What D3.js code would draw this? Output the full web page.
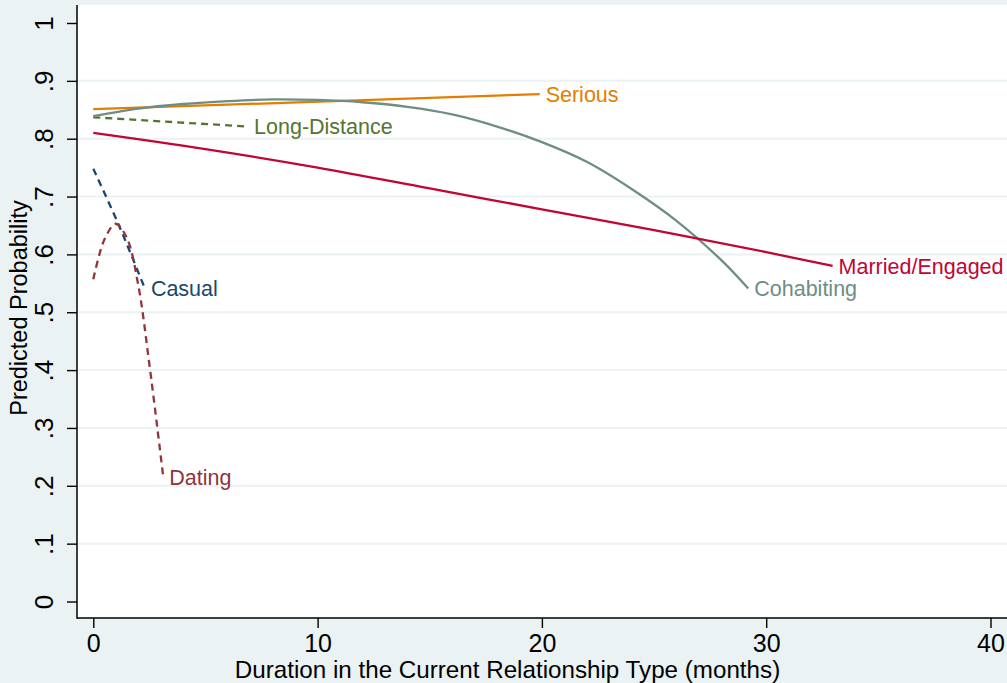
<!DOCTYPE html>
<html>
<head>
<meta charset="utf-8">
<script src="https://cdn.jsdelivr.net/npm/d3@7"></script>
<style>
  html, body { margin: 0; padding: 0; background: #eaf2f3; }
  svg { display: block; }
  text { font-family: "Liberation Sans", Arial, Helvetica, sans-serif; }
</style>
</head>
<body>
<svg id="chart" width="1007" height="683"></svg>
<script>
// Predicted probability by months in the current relationship type
const xTicks = [0, 10, 20, 30, 40];
const yTicks = [0, .1, .2, .3, .4, .5, .6, .7, .8, .9, 1];
const yTickLabels = ["0", ".1", ".2", ".3", ".4", ".5", ".6", ".7", ".8", ".9", "1"];

const seriesNames = ["Casual", "Dating", "Long-Distance", "Serious", "Cohabiting", "Married/Engaged"];

// [months, predicted probability]
const casual = [[0, .748], [1.1, .654], [2.3, .541]];
const dating = [[0, .557], [0.5, .626], [1, .653], [1.5, .628], [2, .548], [2.5, .41], [3.12, .215]];
const longDistance = [[0, .837], [6.9, .821]];
const serious = [[0, .851], [19.9, .877]];
const cohabiting = [[0, .839], [2, .852], [4, .860], [6, .865], [8, .868], [10, .867], [12, .863],
                    [14, .855], [16, .842], [18, .821], [20, .794], [22, .760], [24, .713],
                    [26, .658], [28, .590], [29.2, .541]];
const married = [[0, .810], [5, .782], [10, .750], [15, .714], [20, .678], [25, .642], [30, .604], [32.96, .580]];

const seriesData = [casual, dating, longDistance, serious, cohabiting, married];
const seriesColors = ["#1a476f", "#90353b", "#55752f", "#e37e00", "#6e8e84", "#c10534"];
const seriesDash = ["7,5", "7,5", "7,5", null, null, null];

const svg = d3.select("#chart");
const W = 1007, H = 683;
const plot = { left: 77, top: 5, right: 1010, bottom: 618 };

const x = d3.scaleLinear().domain([0, 40]).range([93.3, 990.5]);
const y = d3.scaleLinear().domain([0, 1]).range([601.5, 23]);

// outer background and plot region
svg.append("rect").attr("width", W).attr("height", H).attr("fill", "#eaf2f3");
svg.append("rect")
  .attr("x", plot.left).attr("y", plot.top)
  .attr("width", plot.right - plot.left).attr("height", plot.bottom - plot.top)
  .attr("fill", "#ffffff");

// horizontal grid lines (interior labels only)
svg.append("g").selectAll("line")
  .data(yTicks.slice(1, -1))
  .join("line")
  .attr("x1", plot.left).attr("x2", plot.right)
  .attr("y1", d => y(d)).attr("y2", d => y(d))
  .attr("stroke", "#eaf2f3").attr("stroke-width", 2);

// y axis
const yAxis = d3.axisLeft(y).tickValues(yTicks).tickSize(10)
  .tickFormat((d, i) => yTickLabels[i]);
const gy = svg.append("g").attr("transform", `translate(${plot.left},0)`).call(yAxis);
gy.select(".domain").remove();
gy.selectAll(".tick line").attr("stroke", "#000").attr("stroke-width", 1.4);
gy.selectAll(".tick text")
  .attr("x", null).attr("dy", null)
  .attr("transform", "translate(-24,0) rotate(-90)")
  .attr("text-anchor", "middle")
  .attr("font-size", 26).attr("fill", "#000");

// x axis
const xAxis = d3.axisBottom(x).tickValues(xTicks).tickSize(10).tickFormat(d3.format("d"));
const gx = svg.append("g").attr("transform", `translate(0,${plot.bottom})`).call(xAxis);
gx.select(".domain").remove();
gx.selectAll(".tick line").attr("stroke", "#000").attr("stroke-width", 1.4);
gx.selectAll(".tick text")
  .attr("y", 33.5).attr("dy", null)
  .attr("font-size", 25).attr("fill", "#000");

// axis lines
svg.append("line")
  .attr("x1", plot.left).attr("x2", plot.left)
  .attr("y1", plot.top).attr("y2", plot.bottom + 0.7)
  .attr("stroke", "#000").attr("stroke-width", 1.5);
svg.append("line")
  .attr("x1", plot.left).attr("x2", plot.right)
  .attr("y1", plot.bottom).attr("y2", plot.bottom)
  .attr("stroke", "#000").attr("stroke-width", 1.5);

// axis titles
svg.append("text")
  .attr("x", 507.5).attr("y", 677.6)
  .attr("text-anchor", "middle")
  .attr("font-size", 24.2).attr("fill", "#000")
  .text("Duration in the Current Relationship Type (months)");
svg.append("text")
  .attr("transform", "translate(27,308) rotate(-90)")
  .attr("text-anchor", "middle")
  .attr("font-size", 23.5).attr("fill", "#000")
  .text("Predicted Probability");

// curves
const line = d3.line()
  .x(d => x(d[0])).y(d => y(d[1]))
  .curve(d3.curveCatmullRom.alpha(0.5));

const gLines = svg.append("g");
seriesData.forEach((pts, i) => {
  gLines.append("path")
    .datum(pts)
    .attr("d", line)
    .attr("fill", "none")
    .attr("stroke", seriesColors[i])
    .attr("stroke-width", 2.3)
    .attr("stroke-dasharray", seriesDash[i]);
});

// end-of-line labels
seriesData.forEach((pts, i) => {
  const last = pts[pts.length - 1];
  svg.append("text")
    .attr("x", x(last[0]) + 6)
    .attr("y", y(last[1]))
    .attr("dy", "0.36em")
    .attr("font-size", 21.5)
    .attr("fill", seriesColors[i])
    .text(seriesNames[i]);
});
</script>
</body>
</html>
